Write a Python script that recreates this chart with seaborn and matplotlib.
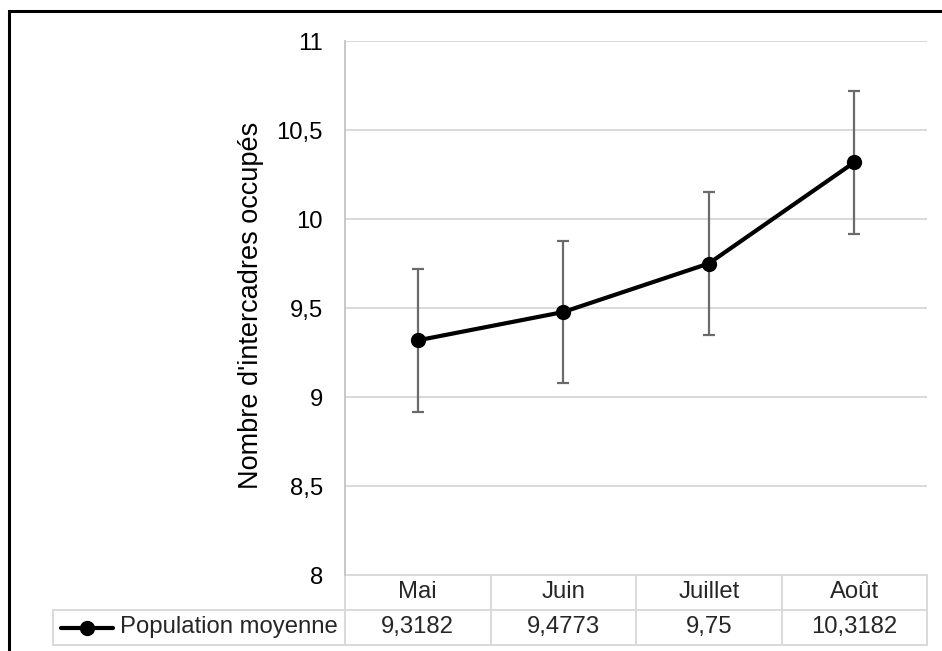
import numpy as np
import pandas as pd
import seaborn as sns
import matplotlib.pyplot as plt
from matplotlib.lines import Line2D
from matplotlib.patches import Rectangle

# Données
mois = ['Mai', 'Juin', 'Juillet', 'Août']
population = [9.3182, 9.4773, 9.75, 10.3182]
erreur = [0.4, 0.4, 0.4, 0.4]
valeurs_txt = ['9,3182', '9,4773', '9,75', '10,3182']
y_ticks = [8, 8.5, 9, 9.5, 10, 10.5, 11]

sns.set_style('white')
plt.rcParams['font.family'] = ['Liberation Sans', 'DejaVu Sans']

W, H = 942, 651
fig = plt.figure(figsize=(W / 100, H / 100), dpi=100)
fs = 17.2  # taille du texte

# zone de tracé en pixels (gauche, haut, droite, bas)
x0, y0, x1, y1 = 345, 41, 927, 575
ax = fig.add_axes([x0 / W, 1 - y1 / H, (x1 - x0) / W, (y1 - y0) / H])

df = pd.DataFrame({'mois': mois, 'pop': population, 'err': erreur})
xpos = np.arange(len(mois))

ax.errorbar(xpos, df['pop'], yerr=df['err'], fmt='none', ecolor='#6b6b6b',
            elinewidth=1.6, capsize=4.5, capthick=1.6, zorder=2)
sns.lineplot(x=xpos, y=df['pop'], ax=ax, color='black', linewidth=3,
             marker='o', markersize=11, markeredgewidth=0, zorder=3)

ax.set_xlim(-0.5, len(mois) - 0.5)
ax.set_ylim(8, 11)
ax.set_yticks(y_ticks)
ax.set_yticklabels([f'{t:g}'.replace('.', ',') for t in y_ticks])
ax.set_xticks([])
ax.tick_params(axis='y', length=0, pad=16, labelsize=fs, labelcolor='black')
ax.grid(axis='y', color='#d9d9d9', linewidth=1.4)
ax.set_axisbelow(True)
for s in ['top', 'right', 'bottom']:
    ax.spines[s].set_visible(False)
ax.spines['left'].set_color('#c8c8c8')
ax.spines['left'].set_linewidth(1.4)
ax.set_xlabel('')
ax.set_ylabel("Nombre d'intercadres occupés", fontsize=19.5, color='black')
ax.yaxis.set_label_coords(-0.14, 0.505)

# tableau de données sous l'axe
gris = '#d9d9d9'
trans = ax.get_xaxis_transform()
ph = y1 - y0
def ya(py):
    return (y1 - py) / ph

y_hdr_top, y_row_top, y_row_bot = 575, 610, 645
for b in np.arange(-0.5, len(mois), 1.0):
    ax.plot([b, b], [ya(y_hdr_top), ya(y_row_bot)], transform=trans,
            color=gris, lw=1.4, clip_on=False)
ax.plot([-0.5, len(mois) - 0.5], [ya(y_hdr_top)] * 2, transform=trans,
        color=gris, lw=1.4, clip_on=False)

# ligne de la légende (en pixels figure)
def fx(px):
    return px / W
def fy(py):
    return 1 - py / H

xl = 53
for py in (y_row_top, y_row_bot):
    fig.add_artist(Line2D([fx(xl), fx(x1)], [fy(py)] * 2, color=gris, lw=1.4))
fig.add_artist(Line2D([fx(xl)] * 2, [fy(y_row_top), fy(y_row_bot)], color=gris, lw=1.4))

ym = (y_row_top + y_row_bot) / 2
fig.add_artist(Line2D([fx(61), fx(113)], [fy(ym)] * 2, color='black', lw=3))
fig.add_artist(Line2D([fx(87)], [fy(ym)], color='black', marker='o',
                      markersize=11, markeredgewidth=0, lw=0))
fig.text(fx(120), fy(ym), 'Population moyenne', fontsize=fs,
         ha='left', va='center')

for i, (m, v) in enumerate(zip(mois, valeurs_txt)):
    ax.text(i, ya(592), m, transform=trans, ha='center', va='center', fontsize=fs)
    ax.text(i, ya(ym), v, transform=trans, ha='center', va='center', fontsize=fs)

# cadre extérieur
fig.add_artist(Rectangle((fx(9), fy(700)), fx(1000), fy(11) - fy(700),
                         fill=False, edgecolor='black', lw=2.2))

fig.savefig('out.png', dpi=100)
